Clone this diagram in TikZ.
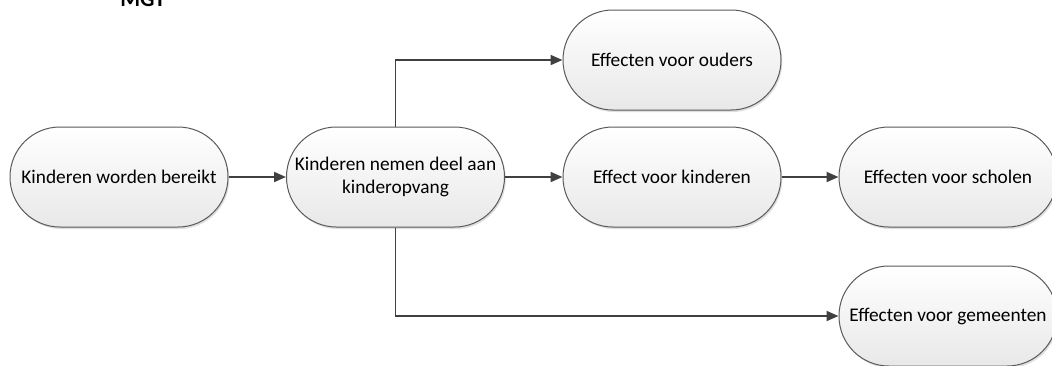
\documentclass[tikz,border=0pt]{standalone}
\usepackage{fontspec}
\setmainfont{Carlito}
\usepackage{tikz}
\usetikzlibrary{arrows.meta,shadows}
\definecolor{lijn}{HTML}{404040}
\definecolor{rand}{HTML}{5A5A5A}
\tikzset{
    stadium/.style={draw=rand,line width=0.75pt,rounded corners=37.4pt,minimum width=163.5pt,minimum height=75pt,
        top color=white,bottom color=black!9,inner sep=1pt,align=center,font=\fontsize{14.5}{17.5}\selectfont,
        drop shadow={shadow xshift=1pt,shadow yshift=-1.5pt,opacity=0.25}},
    conn/.style={draw=lijn,line width=1.4pt,-{Triangle[length=9pt,width=7.5pt]}},
}
\begin{document}
\begin{tikzpicture}[x=0.75pt,y=-0.75pt]
    \useasboundingbox (0,0) rectangle (1052,365);

    \node[anchor=base,font=\bfseries\fontsize{17}{20}\selectfont] (kop) at (143,6) {MGT}; % cut off title

    \node[stadium] (bereikt) at (119,177) {Kinderen worden bereikt}; % boxes
    \node[stadium] (deelname) at (395.5,177) {Kinderen nemen deel aan\\kinderopvang};
    \node[stadium] (ouders) at (672,60) {Effecten voor ouders};
    \node[stadium] (kinderen) at (672,177) {Effect voor kinderen};
    \node[stadium] (scholen) at (948,177) {Effecten voor scholen};
    \node[stadium] (gemeenten) at (948,316) {Effecten voor gemeenten};

    \draw[conn] (bereikt) -- (deelname); % arrows
    \draw[conn] (deelname) -- (kinderen);
    \draw[conn] (kinderen) -- (scholen);
    \draw[conn] (deelname.north) |- (ouders.west);
    \draw[conn] (deelname.south) |- (gemeenten.west);
\end{tikzpicture}
\end{document}
